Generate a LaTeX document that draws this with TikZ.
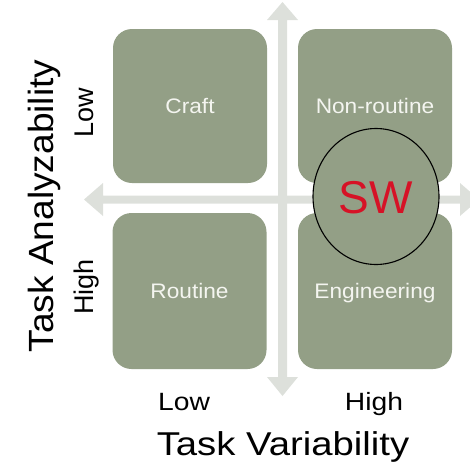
\documentclass[tikz,border=0pt]{standalone}
\usepackage{fontspec}
\setmainfont{Liberation Sans}
\usetikzlibrary{shapes.geometric}
\definecolor{boxgreen}{RGB}{147,159,134}
\definecolor{arrowgray}{RGB}{221,224,219}
\definecolor{boxtext}{RGB}{244,245,240}
\definecolor{swred}{RGB}{214,18,38}
\tikzset{
  quad/.style={draw=none, fill=boxgreen, rounded corners=19pt, minimum width=154pt,
    inner sep=0pt, text=boxtext, font=\fontsize{21}{25}\selectfont,
    text height=15pt, text depth=0pt},
  axlab/.style={inner sep=0pt, anchor=base, text=black},
}
\begin{document}
\begin{tikzpicture}[x=1pt, y=-1pt]
\useasboundingbox (0,0) rectangle (470,463);
\clip (0,0) rectangle (470,463);
% axes arrows
\coordinate (vtop) at (282.5,2);
\coordinate (vbot) at (282.5,396);
\coordinate (hleft) at (84,199.5);
\coordinate (hright) at (479,199.5);
\fill[arrowgray] (vtop) -- (298,20) -- (287,20) -- (287,377) -- (298,377) -- (vbot)
  -- (267,377) -- (278,377) -- (278,20) -- (267,20) -- cycle;
\fill[arrowgray] (hleft) -- (103,183) -- (103,195.5) -- (460,195.5) -- (460,183) -- (hright)
  -- (460,216) -- (460,203.5) -- (103,203.5) -- (103,216) -- cycle;
% quadrants
\node[quad, minimum height=154pt] (craft) at (190,106) {\scalebox{1.08}[1]{Craft}};
\node[quad, minimum height=154pt] (nonroutine) at (375,106) {\scalebox{1.08}[1]{Non-routine}};
\node[quad, minimum height=156pt] (routine) at (189.5,291) {\scalebox{1.08}[1]{Routine}};
\node[quad, minimum height=156pt] (engineering) at (375,291) {\scalebox{1.08}[1]{Engineering}};
% SW ellipse
\node[ellipse, draw=black, line width=1.1pt, fill=boxgreen, minimum width=126pt,
  minimum height=136pt, inner sep=0pt, text=swred, font=\fontsize{46}{50}\selectfont,
  text height=33pt, text depth=0pt] (sw) at (376,196.5) {SW};
% axis labels
\node[axlab, rotate=90, font=\fontsize{35}{40}\selectfont] (ylab) at (53,206) {\scalebox{1.06}[1]{Task Analyzability}};
\node[axlab, rotate=90, font=\fontsize{27}{30}\selectfont] (ylow) at (93,113) {Low};
\node[axlab, rotate=90, font=\fontsize{27}{30}\selectfont] (yhigh) at (93,287) {High};
\node[axlab, font=\fontsize{25}{30}\selectfont] (xlow) at (184,410) {\scalebox{1.13}[1]{Low}};
\node[axlab, font=\fontsize{25}{30}\selectfont] (xhigh) at (374,410) {\scalebox{1.13}[1]{High}};
\node[axlab, font=\fontsize{33}{38}\selectfont] (xlab) at (283,455) {\scalebox{1.16}[1]{Task Variability}};
\end{tikzpicture}
\end{document}
